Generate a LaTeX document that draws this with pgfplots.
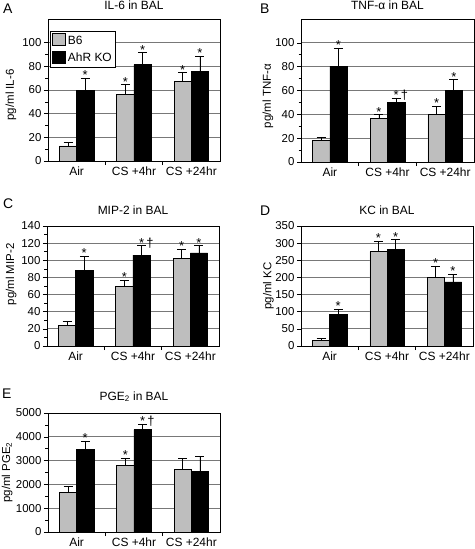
\documentclass[border=0pt]{standalone}
\usepackage{fontspec}
\setmainfont{Liberation Sans}
\usepackage{pgfplots}
\pgfplotsset{compat=1.18}
\definecolor{barg}{RGB}{190,190,190}
\definecolor{gridg}{RGB}{120,120,120}
\newcommand\St{*}
\newcommand\Sd{*\rlap{\,\textdagger}}
\pgfplotsset{
 panel/.style={
  scale only axis, width=172bp,
  xmin=-0.5, xmax=2.5, ymin=0,
  axis line style={black, line width=0.8bp},
  xtick={0.5,1.5}, xticklabels={},
  extra x ticks={0,1,2}, extra x tick labels={Air,CS +4hr,CS +24hr},
  extra x tick style={major tick length=0pt, grid=none,
     tick label style={font=\fontsize{12}{14}\selectfont, yshift=-2bp}},
  tick align=outside, major tick length=4bp, minor tick length=2.5bp,
  tick style={black, line width=0.6bp},
  ymajorgrids, major grid style={gridg, line width=0.8bp},
  minor y tick num=1,
  xtick pos=bottom, ytick pos=left,
  y tick label style={font=\fontsize{11.5}{13}\selectfont, xshift=1bp},
  /pgf/number format/assume math mode=true,
  /pgf/number format/1000 sep={},
  title style={font=\fontsize{12}{14}\selectfont, at={(0.5,1)}, anchor=base, yshift=4bp, inner sep=0pt},
  every axis y label/.style={rotate=90, anchor=center,
     font=\fontsize{11.5}{13}\selectfont},
  clip=false,
 },
 b6/.style={ybar, bar width=0.3, bar shift=0pt, fill=barg, draw=black, line width=0.6bp,
   legend image code/.code={\draw[fill=barg, draw=black, line width=0.6bp] (0bp,-5bp) rectangle (13bp,7bp);},
   error bars/.cd, y dir=plus, y explicit, error mark=|,
   error bar style={black, line width=0.7bp},
   error mark options={black, line width=0.7bp, mark size=4.5bp}},
 ko/.style={ybar, bar width=0.3, bar shift=0pt, fill=black, draw=black, line width=0.6bp,
   legend image code/.code={\draw[fill=black, draw=black, line width=0.6bp] (0bp,-5bp) rectangle (13bp,7bp);},
   error bars/.cd, y dir=plus, y explicit, error mark=|,
   error bar style={black, line width=0.7bp},
   error mark options={black, line width=0.7bp, mark size=4.5bp}},
 star/.style={only marks, mark=none, nodes near coords, point meta=explicit symbolic,
   every node near coord/.style={font=\fontsize{13}{14}\selectfont, anchor=base, inner sep=0pt, yshift=-1.5bp}},
}
\begin{document}
\begin{tikzpicture}
\path[use as bounding box] (0,0) rectangle (475bp,-549bp);
% ---------------- A
\begin{axis}[panel, at={(48bp,-161bp)}, anchor=south west, height=142bp, ymax=120,
  ytick={0,20,...,100}, title={IL-6 in BAL}, ylabel={pg/ml IL-6},
  ylabel style={at={(axis description cs:-0.215,0.465)}},
  legend style={at={(0.012,0.915)}, anchor=north west, draw=black, line width=0.6bp,
     font=\fontsize{12}{14}\selectfont, row sep=3bp, inner sep=2bp, fill=white},
  legend cell align=left]
\addplot[b6] table[y error=e] {
x y e
-0.15 12.7 2.8
0.85 56 8.5
1.85 67.3 7.3
};
\addplot[ko] table[y error=e] {
x y e
0.15 59.7 10.3
1.15 81.4 10.1
2.15 75.8 12.9
};
\addplot[star] table[meta=l] {
x y l
0.15 70 \St
0.85 64.5 \St
1.15 91.5 \St
1.85 74.6 \St
2.15 88.7 \St
};
\legend{B6, AhR KO}
\end{axis}
% ---------------- B
\begin{axis}[panel, at={(301bp,-162bp)}, anchor=south west, width=173bp, height=143bp, ymax=120,
  ytick={0,20,...,100}, title={TNF-α in BAL}, ylabel={pg/ml TNF-α},
  ylabel style={at={(axis description cs:-0.191,0.46)}}]
\addplot[b6] table[y error=e] {
x y e
-0.15 18.2 2.8
0.85 36.3 3.4
1.85 40 6.6
};
\addplot[ko] table[y error=e] {
x y e
0.15 80.4 15.1
1.15 50.3 3.3
2.15 60.3 8.7
};
\addplot[star] table[meta=l] {
x y l
0.15 95.5 \St
0.85 39.7 \St
1.15 53.6 \Sd
1.85 46.6 \St
2.15 69 \St
};
\end{axis}
% ---------------- C
\begin{axis}[panel, at={(47bp,-346bp)}, anchor=south west, height=120bp, ymax=140,
  ytick={0,20,...,140}, title={MIP-2 in BAL}, ylabel={pg/ml MIP-2},
  title style={yshift=2bp},
  ylabel style={at={(axis description cs:-0.209,0.596)}}]
\addplot[b6] table[y error=e] {
x y e
-0.15 24.2 5
0.85 69.4 7.4
1.85 102.5 10.1
};
\addplot[ko] table[y error=e] {
x y e
0.15 88.5 16.3
1.15 106 11
2.15 108.7 8.3
};
\addplot[star] table[meta=l] {
x y l
0.15 104.8 \St
0.85 76.8 \St
1.15 117 \Sd
1.85 112.6 \St
2.15 117 \St
};
\end{axis}
% ---------------- D
\begin{axis}[panel, at={(301bp,-346bp)}, anchor=south west, height=120bp, ymax=350,
  ytick={0,50,...,350}, minor y tick num=0, title={KC in BAL}, ylabel={pg/ml KC},
  title style={yshift=2bp},
  ylabel style={at={(axis description cs:-0.19,0.5)}}]
\addplot[b6] table[y error=e] {
x y e
-0.15 17 4
0.85 275 31
1.85 201 32
};
\addplot[ko] table[y error=e] {
x y e
0.15 91.6 15.4
1.15 282.6 27.4
2.15 187 21.6
};
\addplot[star] table[meta=l] {
x y l
0.15 107 \St
0.85 306 \St
1.15 310 \St
1.85 233 \St
2.15 208.6 \St
};
\end{axis}
% ---------------- E
\begin{axis}[panel, at={(48bp,-532bp)}, anchor=south west, height=119bp, ymax=5000,
  ytick={0,1000,...,5000}, title={PGE\textsubscript{2} in BAL}, ylabel={pg/ml PGE\textsubscript{2}},
  title style={yshift=3bp},
  ylabel style={at={(axis description cs:-0.238,0.5)}}]
\addplot[b6] table[y error=e] {
x y e
-0.15 1680 253
0.85 2815 280
1.85 2619 476
};
\addplot[ko] table[y error=e] {
x y e
0.15 3487 337
1.15 4300 238
2.15 2535 630
};
\addplot[star] table[meta=l] {
x y l
0.15 3824 \St
0.85 3095 \St
1.15 4538 \Sd
};
\end{axis}
% panel letters
\node[anchor=base west, inner sep=0pt, font=\fontsize{14}{16}\selectfont] at (3bp,-13bp) {A};
\node[anchor=base west, inner sep=0pt, font=\fontsize{14}{16}\selectfont] at (260bp,-13bp) {B};
\node[anchor=base west, inner sep=0pt, font=\fontsize{14}{16}\selectfont] at (3bp,-208bp) {C};
\node[anchor=base west, inner sep=0pt, font=\fontsize{14}{16}\selectfont] at (260bp,-215bp) {D};
\node[anchor=base west, inner sep=0pt, font=\fontsize{14}{16}\selectfont] at (2bp,-398bp) {E};
\end{tikzpicture}
\end{document}
